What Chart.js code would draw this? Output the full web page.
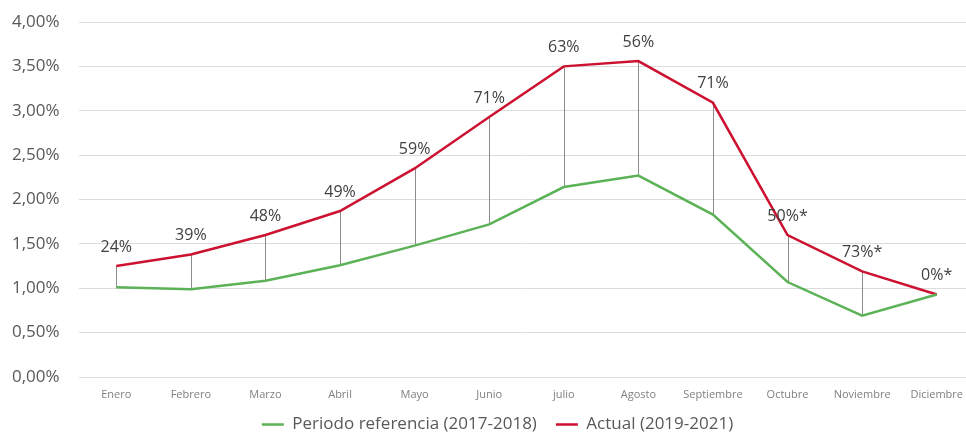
<!DOCTYPE html>
<html>
<head>
<meta charset="utf-8">
<script src="https://cdn.jsdelivr.net/npm/chart.js@4"></script>
<style>
  html, body { margin: 0; padding: 0; background: #ffffff; overflow: hidden; width: 966px; height: 432px; }
  #wrap { position: absolute; left: 0; top: 0; }
</style>
</head>
<body>
<div id="wrap"><canvas id="c" width="974" height="443"></canvas></div>
<script>
const months = ["Enero","Febrero","Marzo","Abril","Mayo","Junio","julio","Agosto","Septiembre","Octubre","Noviembre","Diciembre"];
const referencia = [1.01, 0.99, 1.085, 1.26, 1.48, 1.72, 2.14, 2.27, 1.83, 1.07, 0.69, 0.93];
const actual = [1.25, 1.38, 1.60, 1.87, 2.35, 2.93, 3.50, 3.56, 3.09, 1.60, 1.19, 0.93];
const pointLabels = ["24%","39%","48%","49%","59%","71%","63%","56%","71%","50%*","73%*","0%*"];
const yTicks = [0, 0.5, 1, 1.5, 2, 2.5, 3, 3.5, 4];

const FONT = "'Open Sans', 'Noto Sans', sans-serif";

const dropLines = {
  id: 'dropLines',
  beforeDatasetsDraw(chart) {
    const {ctx, scales: {x, y}} = chart;
    ctx.save();
    ctx.strokeStyle = '#8c8c8c';
    ctx.lineWidth = 1;
    months.forEach((m, i) => {
      const px = Math.round(x.getPixelForValue(i)) + 0.5;
      ctx.beginPath();
      ctx.moveTo(px, y.getPixelForValue(actual[i]));
      ctx.lineTo(px, y.getPixelForValue(referencia[i]));
      ctx.stroke();
    });
    ctx.restore();
  }
};

const valueLabels = {
  id: 'valueLabels',
  afterDatasetsDraw(chart) {
    const {ctx, scales: {x, y}} = chart;
    ctx.save();
    ctx.fillStyle = '#404040';
    ctx.font = "16px " + FONT;
    ctx.textAlign = 'center';
    ctx.textBaseline = 'middle';
    pointLabels.forEach((t, i) => {
      ctx.fillText(t, x.getPixelForValue(i), y.getPixelForValue(actual[i]) - 19);
    });
    ctx.restore();
  }
};

new Chart(document.getElementById('c'), {
  type: 'line',
  data: {
    labels: months,
    datasets: [
      {
        label: 'Periodo referencia (2017-2018)',
        data: referencia,
        borderColor: '#5cb257',
        backgroundColor: '#5cb257',
        borderWidth: 2.5,
        pointRadius: 0,
        tension: 0
      },
      {
        label: 'Actual (2019-2021)',
        data: actual,
        borderColor: '#cc1230',
        backgroundColor: '#cc1230',
        borderWidth: 2.5,
        pointRadius: 0,
        tension: 0
      }
    ]
  },
  options: {
    responsive: false,
    animation: false,
    devicePixelRatio: 1,
    layout: { padding: { left: 21, right: 0, top: 22, bottom: 0 } },
    plugins: {
      tooltip: { enabled: false },
      legend: {
        position: 'bottom',
        labels: {
          usePointStyle: true,
          pointStyle: 'line',
          pointStyleWidth: 22,
          padding: 19,
          color: '#595959',
          font: { family: FONT, size: 17 }
        }
      }
    },
    scales: {
      x: {
        offset: true,
        grid: { display: false, drawTicks: false },
        border: { display: false },
        ticks: {
          mirror: true,
          color: '#808080',
          font: { family: FONT, size: 11 },
          padding: -24,
          maxRotation: 0,
          autoSkip: false
        },
        afterFit(s) { s.height = 20; }
      },
      y: {
        min: 0,
        max: 4,
        afterBuildTicks(s) { s.ticks = yTicks.map(v => ({ value: v })); },
        grid: { color: '#dcdcdc', lineWidth: 1, drawTicks: false },
        border: { display: false },
        ticks: {
          mirror: true,
          crossAlign: 'near',
          color: '#595959',
          font: { family: FONT, size: 17 },
          padding: -67,
          callback: v => v.toFixed(2).replace('.', ',') + '%'
        },
        afterFit(s) { s.width = 58; }
      }
    }
  },
  plugins: [dropLines, valueLabels]
});
</script>
</body>
</html>
